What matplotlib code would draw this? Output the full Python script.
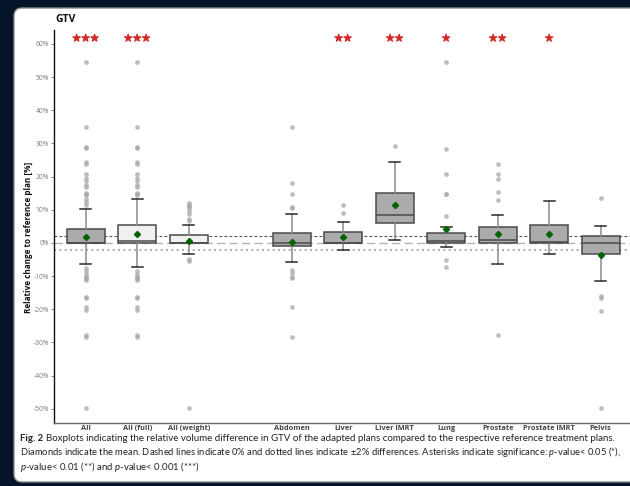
import matplotlib
matplotlib.use("Agg")
import matplotlib.pyplot as plt
import matplotlib.patheffects as pe
from matplotlib.patches import FancyBboxPatch
from matplotlib.transforms import IdentityTransform
from matplotlib.ticker import FuncFormatter

plt.rcParams["font.family"] = ["Open Sans", "DejaVu Sans"]
plt.rcParams["mathtext.fontset"] = "custom"
plt.rcParams["mathtext.it"] = "Lato:italic"
plt.rcParams["mathtext.rm"] = "Lato"

# box statistics per group (relative change in %)
groups = ["All", "All (full)", "All (weight)", "Abdomen", "Liver", "Liver IMRT",
          "Lung", "Prostate", "Prostate IMRT", "Pelvis"]
q1 = [0.0, 0.0, 0.0, -1.0, 0.0, 6.1, 0.1, 0.1, 0.1, -3.3]
median = [0.1, 0.7, 0.0, 0.0, 0.0, 8.4, 0.5, 0.8, 0.2, 0.0]
q3 = [4.1, 5.4, 2.3, 2.9, 3.3, 15.0, 3.1, 4.7, 5.4, 2.1]
whisker_lo = [-6.5, -7.4, -3.3, -5.7, -2.0, 0.8, -1.3, -6.4, -3.3, -11.5]
whisker_hi = [10.2, 13.3, 5.4, 8.7, 6.4, 24.4, 4.7, 8.4, 12.6, 5.1]
means = [1.9, 2.6, 0.6, 0.3, 1.9, 11.4, 4.1, 2.7, 2.8, -3.5]
outliers = [
    [54.7, 35.0, 29.0, 28.5, 24.3, 23.8, 20.8, 19.5, 18.6, 17.6, 16.9, 15.1, 14.8,
     14.5, 13.2, 12.3, 11.4, -7.6, -8.5, -9.4, -10.2, -10.5, -10.7, -11.3, -16.2,
     -16.7, -19.2, -20.2, -27.9, -28.4, -49.9],
    [54.7, 35.0, 29.0, 28.5, 24.3, 23.8, 20.8, 19.5, 18.6, 17.6, 16.9, 15.1, 14.8,
     14.5, -8.5, -9.4, -10.2, -10.5, -10.7, -11.3, -16.2, -16.7, -19.2, -20.2,
     -27.9, -28.4],
    [12.0, 11.5, 11.0, 10.4, 9.6, 8.6, 7.1, 6.6, -4.9, -5.3, -49.9],
    [35.0, 18.2, 14.8, 10.9, 10.6, -8.3, -9.0, -10.2, -10.6, -19.2, -28.4],
    [11.5, 8.9],
    [29.2],
    [54.7, 28.3, 20.8, 14.9, 14.7, 8.2, -5.2, -7.4],
    [23.7, 20.7, 19.2, 15.3, 13.0, -27.8],
    [],
    [13.6, -15.9, -16.6, -20.4, -49.8],
]
significance = ["***", "***", "", "", "**", "**", "*", "**", "*", ""]

# empty slot between the pooled groups and the sites
positions = [i + 1 + (i >= 3) for i in range(len(groups))]

W, H = 630, 486
fig = plt.figure(figsize=(W / 100, H / 100), dpi=100)
fig.patch.set_facecolor("#06142a")

panel = FancyBboxPatch((14, 4), 660, 474, boxstyle="round,pad=0,rounding_size=8",
                       transform=IdentityTransform(), facecolor="white",
                       edgecolor="#8a8a8a", linewidth=1.0, zorder=-5)
fig.patches.append(panel)

ax = fig.add_axes([54 / W, 63.3 / H, 1 - 54 / W, 392.7 / H])
ax.set_facecolor("none")

stats = []
for i in range(len(groups)):
    stats.append(dict(med=median[i], q1=q1[i], q3=q3[i], whislo=whisker_lo[i],
                      whishi=whisker_hi[i], mean=means[i], fliers=outliers[i]))

bp = ax.bxp(stats, positions=positions, widths=0.74, showmeans=True,
            patch_artist=True, showcaps=True,
            boxprops=dict(edgecolor="#4a4a4a", linewidth=1.1),
            medianprops=dict(color="#4a4a4a", linewidth=1.1),
            whiskerprops=dict(color="#8a8a8a", linewidth=1.1),
            capprops=dict(color="#2a2a2a", linewidth=1.1),
            meanprops=dict(marker="D", markerfacecolor="#006400",
                           markeredgecolor="#006400", markersize=3.1),
            flierprops=dict(marker="o", markerfacecolor="#a8a8a8",
                            markeredgecolor="none", markersize=3.4, alpha=0.75))
for i, box in enumerate(bp["boxes"]):
    box.set_facecolor("#f0f0f0" if i in (1, 2) else "#ababab")
    box.set_zorder(2)
for cap in bp["caps"]:
    x0, x1 = cap.get_xdata()
    c = (x0 + x1) / 2
    cap.set_xdata([c - 0.105, c + 0.105])

# reference lines at 0 % and +/-2 %
ax.axhline(0, color="#b4b4b4", linestyle=(0, (6, 3)), linewidth=1.0, zorder=1)
ax.axhline(2, color="#555555", linestyle=(0, (2.5, 2)), linewidth=0.8, zorder=1)
ax.axhline(-2, color="#a0a0a0", linestyle=(0, (1.2, 2)), linewidth=1.2, zorder=1)

# significance stars, slightly thickened
for x, s in zip(positions, significance):
    if s:
        ax.text(x, 61.7, "\u2605" * len(s), ha="center", va="center",
                fontsize=7.2, color="#d42a2a", family="DejaVu Sans",
                path_effects=[pe.withStroke(linewidth=0.7, foreground="#d42a2a")])

ax.set_xlim(0.385, 11.57)
ax.set_ylim(-54.2, 64.2)
ax.set_yticks(range(-50, 61, 10))
ax.yaxis.set_major_formatter(FuncFormatter(lambda v, _: f"{v:.0f}%"))
ax.set_xticks(positions)
ax.set_xticklabels(groups, fontsize=5.3, fontweight="bold", color="#444444")
ax.tick_params(axis="x", length=0, pad=2)
ax.tick_params(axis="y", length=2, width=0.6, color="#777777", labelsize=4.9,
               labelcolor="#7a7a7a", pad=1.5)
for side in ("top", "right"):
    ax.spines[side].set_visible(False)
ax.spines["left"].set_color("#111111")
ax.spines["left"].set_linewidth(1.0)
ax.spines["bottom"].set_color("#666666")
ax.spines["bottom"].set_linewidth(1.0)

fig.text(55 / W, 1 - 20 / H, "GTV", fontsize=7.5, fontweight="bold",
         ha="left", va="center", color="#111111")
fig.text(28 / W, 1 - 237 / H, "Relative change to reference plan [%]",
         rotation=90, fontsize=5.9, fontweight="bold", ha="center", va="center",
         color="#111111")

cap_lines = [
    "Boxplots indicating the relative volume difference in GTV of the adapted plans "
    "compared to the respective reference treatment plans.",
    "Diamonds indicate the mean. Dashed lines indicate 0% and dotted lines indicate "
    "\u00b12% differences. Asterisks indicate significance: $p$-value< 0.05 (*),",
    "$p$-value< 0.01 (**) and $p$-value< 0.001 (***)",
]
fig.text(20 / W, 1 - 438 / H, "Fig. 2", fontsize=6.9, fontweight="bold",
         family="Lato", ha="left", va="center", color="#222222")
fig.text(46 / W, 1 - 438 / H, cap_lines[0], fontsize=7.0, family="Lato",
         ha="left", va="center", color="#222222")
fig.text(20 / W, 1 - 452 / H, cap_lines[1], fontsize=6.75, family="Lato",
         ha="left", va="center", color="#222222")
fig.text(20 / W, 1 - 467 / H, cap_lines[2], fontsize=6.9, family="Lato",
         ha="left", va="center", color="#222222")

fig.savefig("out.png", dpi=100, facecolor=fig.get_facecolor())
